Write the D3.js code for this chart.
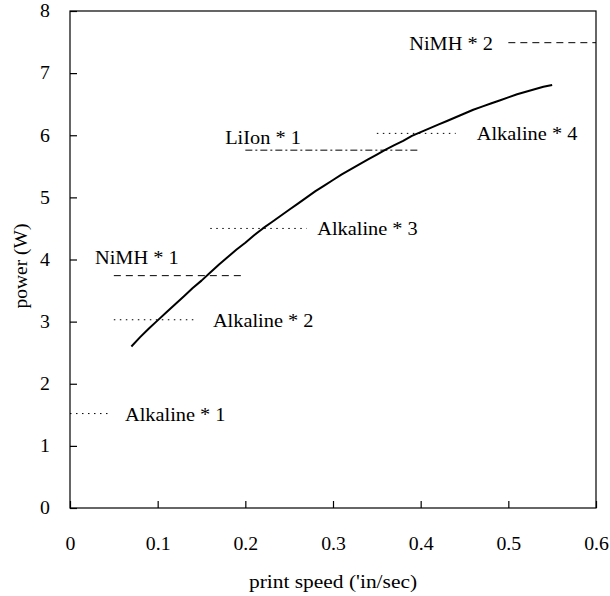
<!DOCTYPE html>
<html>
<head>
<meta charset="utf-8">
<script src="https://cdn.jsdelivr.net/npm/d3@7"></script>
<style>
  body { margin: 0; background: #fff; }
  svg text { font-family: "Liberation Serif", "Times New Roman", serif; fill: #000; }
</style>
</head>
<body>
<script>
// measured curve: print speed vs power
var speed = [0.07, 0.08, 0.09, 0.10, 0.11, 0.12, 0.13, 0.14, 0.15, 0.16, 0.17, 0.18, 0.19, 0.20,
  0.21, 0.22, 0.23, 0.24, 0.25, 0.26, 0.27, 0.28, 0.29, 0.30, 0.31, 0.32, 0.33, 0.34, 0.35,
  0.36, 0.37, 0.38, 0.39, 0.40, 0.41, 0.42, 0.43, 0.44, 0.45, 0.46, 0.47, 0.48, 0.49, 0.50,
  0.51, 0.52, 0.53, 0.54, 0.55];
var power = [2.60, 2.75, 2.89, 3.02, 3.15, 3.28, 3.41, 3.54, 3.66, 3.79, 3.92, 4.04, 4.16, 4.27,
  4.39, 4.50, 4.60, 4.70, 4.80, 4.90, 5.00, 5.10, 5.19, 5.28, 5.37, 5.45, 5.53, 5.61, 5.69,
  5.77, 5.84, 5.91, 5.99, 6.05, 6.11, 6.17, 6.23, 6.29, 6.35, 6.41, 6.46, 6.51, 6.56, 6.61,
  6.66, 6.70, 6.74, 6.78, 6.81];

// battery reference levels
var battery = ["Alkaline * 1", "Alkaline * 2", "NiMH * 1", "Alkaline * 3", "LiIon * 1", "Alkaline * 4", "NiMH * 2"];
var batteryPower = [1.52, 3.03, 3.74, 4.50, 5.76, 6.03, 7.49];
var batteryFrom = [0, 0.05, 0.05, 0.16, 0.20, 0.35, 0.50];
var batteryTo = [0.045, 0.145, 0.20, 0.27, 0.397, 0.44, 0.60];
var batteryKind = ["Alkaline", "Alkaline", "NiMH", "Alkaline", "LiIon", "Alkaline", "NiMH"];

var xTicks = [0, 0.1, 0.2, 0.3, 0.4, 0.5, 0.6];
var xTickLabels = ["0", "0.1", "0.2", "0.3", "0.4", "0.5", "0.6"];
var yTicks = [0, 1, 2, 3, 4, 5, 6, 7, 8];

// line look per battery type
var dashFor = { Alkaline: "1.5,4.5", NiMH: "7,5", LiIon: "7,3,2,3" };
// where each label sits: speed where text starts, pixel shift from the line
var labelPlace = [
  [0.0627, 7], [0.163, 7], [0.0285, -12], [0.282, 7], [0.177, -6], [0.464, 7], [0.387, 7]
];

var serif = "'Liberation Serif', 'Times New Roman', serif";
var svgWidth = 610;
var svgHeight = 596;
var margin = { top: 11, right: 14, bottom: 88, left: 70 };
var width = svgWidth - margin.left - margin.right;
var height = svgHeight - margin.top - margin.bottom;
var squash = 1.1; // text in the picture is a bit wider than tall

var svg = d3.select("body").append("svg")
  .attr("width", svgWidth)
  .attr("height", svgHeight)
  .attr("font-family", serif)
  .style("background", "#fff");

var chartGroup = svg.append("g")
  .attr("transform", `translate(${margin.left}, ${margin.top})`);

var xScale = d3.scaleLinear().domain([0, 0.6]).range([0, width]);
var yScale = d3.scaleLinear().domain([0, 8]).range([height, 0]);

var bottomAxis = d3.axisBottom(xScale)
  .tickValues(xTicks)
  .tickFormat((d, i) => xTickLabels[i])
  .tickSizeInner(-7)
  .tickSizeOuter(0)
  .tickPadding(29);
var leftAxis = d3.axisLeft(yScale)
  .tickValues(yTicks)
  .tickFormat(d3.format("d"))
  .tickSizeInner(-7)
  .tickSizeOuter(0)
  .tickPadding(20);

var xAxis = chartGroup.append("g")
  .attr("transform", `translate(0, ${height})`)
  .call(bottomAxis);
var yAxis = chartGroup.append("g")
  .call(leftAxis);

[xAxis, yAxis].forEach(function (ax) {
  ax.attr("font-family", serif).attr("font-size", null);
  ax.select(".domain").remove();
  ax.selectAll("line").attr("stroke", "#000").attr("stroke-width", 1.2);
  ax.selectAll("text")
    .attr("font-size", 18)
    .attr("font-family", serif)
    .each(function () {
      var t = d3.select(this);
      var x = +t.attr("x") || 0, y = +t.attr("y") || 0;
      t.attr("transform", `translate(${x},${y}) scale(${squash},1)`).attr("x", 0).attr("y", 0);
    });
});

// frame
chartGroup.append("rect")
  .attr("width", width)
  .attr("height", height)
  .attr("fill", "none")
  .attr("stroke", "#000")
  .attr("stroke-width", 1.2);

// battery reference lines
chartGroup.selectAll(".ref")
  .data(battery)
  .enter()
  .append("line")
  .attr("class", "ref")
  .attr("x1", (d, i) => xScale(batteryFrom[i]))
  .attr("x2", (d, i) => xScale(batteryTo[i]))
  .attr("y1", (d, i) => yScale(batteryPower[i]))
  .attr("y2", (d, i) => yScale(batteryPower[i]))
  .attr("stroke", "#000")
  .attr("stroke-width", 1)
  .attr("stroke-dasharray", (d, i) => dashFor[batteryKind[i]]);

chartGroup.selectAll(".refLabel")
  .data(battery)
  .enter()
  .append("text")
  .attr("class", "refLabel")
  .attr("transform", (d, i) =>
    `translate(${xScale(labelPlace[i][0])},${yScale(batteryPower[i]) + labelPlace[i][1]}) scale(${squash},1)`)
  .attr("font-family", serif)
  .attr("font-size", 18.5)
  .text(d => d);

// power curve
var curve = speed.map((s, i) => [s, power[i]]);
chartGroup.append("path")
  .datum(curve)
  .attr("fill", "none")
  .attr("stroke", "#000")
  .attr("stroke-width", 2)
  .attr("stroke-linejoin", "round")
  .attr("d", d3.line().x(d => xScale(d[0])).y(d => yScale(d[1])));

// axis titles
svg.append("text")
  .attr("transform", `translate(${margin.left + width / 2}, 588) scale(${squash},1)`)
  .attr("text-anchor", "middle")
  .attr("font-family", serif)
  .attr("font-size", 19.5)
  .text("print speed ('in/sec)");

svg.append("text")
  .attr("transform", "translate(27, 266) rotate(-90)")
  .attr("text-anchor", "middle")
  .attr("font-family", serif)
  .attr("font-size", 19.5)
  .text("power (W)");
</script>
</body>
</html>
